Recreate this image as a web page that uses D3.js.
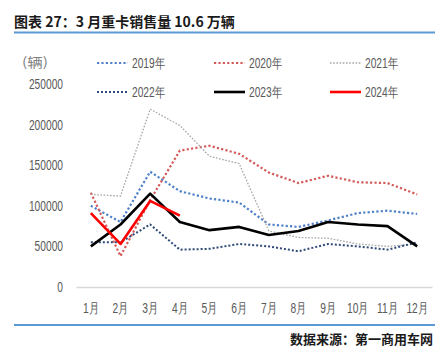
<!DOCTYPE html>
<html><head><meta charset="utf-8">
<script src="https://cdn.jsdelivr.net/npm/d3@7/dist/d3.min.js"></script>
<style>
html,body{margin:0;padding:0;background:#fff;}
svg{display:block;}
</style></head>
<body>
<svg id="c" width="441" height="350"></svg>
<script>
const months = ["1月","2月","3月","4月","5月","6月","7月","8月","9月","10月","11月","12月"];
const yTicks = [0, 50000, 100000, 150000, 200000, 250000];
const s2019 = [100000, 80000, 142000, 118000, 109000, 104000, 77000, 74000, 82000, 91000, 94000, 90000];
const s2020 = [116000, 38000, 107000, 168000, 174000, 164000, 141000, 128000, 137000, 129000, 128000, 114000];
const s2021 = [114000, 112000, 219000, 199000, 161000, 152000, 69000, 61000, 60000, 53000, 50000, 53000];
const s2022 = [55000, 55000, 77000, 46000, 47000, 53000, 50000, 44000, 53000, 50000, 46000, 55000];
const s2023 = [50000, 77000, 115000, 80000, 70000, 74000, 64000, 69000, 80000, 77000, 75000, 50000];
const s2024 = [91000, 53000, 106000, 88000];
const seriesNames = ["2019年","2020年","2021年","2022年","2023年","2024年"];

const styles = [
  {color:"#4f81c9", w:2.2, dash:"2.2,2.2"},
  {color:"#d45a5a", w:2.2, dash:"2.2,2.2"},
  {color:"#a6a6a6", w:1.3, dash:"1.6,1.6"},
  {color:"#2e4a78", w:2.0, dash:"2,2"},
  {color:"#000000", w:2.6, dash:null},
  {color:"#ff0000", w:2.6, dash:null}
];
const allSeries = [s2019, s2020, s2021, s2022, s2023, s2024];

const svg = d3.select("#c");
const font = "'Liberation Sans',Arial,sans-serif";
const cjk = "'Noto Sans CJK SC',sans-serif";
const SQ = 0.73;
function squeeze(sel){
  sel.each(function(){
    const w = this.getComputedTextLength();
    d3.select(this).attr("textLength", w*SQ).attr("lengthAdjust","spacingAndGlyphs");
  });
}

// Title
svg.append("text").attr("x",14).attr("y",27)
  .attr("font-family",cjk).attr("font-weight","bold").attr("font-size",14).attr("fill","#1a1a1a")
  .text("图表 27：3 月重卡销售量 10.6 万辆");
svg.append("rect").attr("x",14).attr("y",31.5).attr("width",421).attr("height",2).attr("fill","#5b9bd5");
svg.append("rect").attr("x",14).attr("y",324).attr("width",421).attr("height",2).attr("fill","#5b9bd5");
svg.append("text").attr("x",433).attr("y",344).attr("text-anchor","end")
  .attr("font-family",cjk).attr("font-weight","bold").attr("font-size",13).attr("fill","#1a1a1a")
  .text("数据来源：第一商用车网");

const x = d3.scaleBand().domain(months).range([76, 432]);
const y = d3.scaleLinear().domain([0, 250000]).range([287, 84]);

// Unit
const unit = svg.append("text").attr("x",22).attr("y",67).attr("font-family",cjk).attr("font-size",13)
  .attr("fill","#7f7f7f").text("(辆)");
unit.attr("textLength",26).attr("lengthAdjust","spacingAndGlyphs");

// Y axis
const ya = svg.append("g").attr("transform","translate(76,0)")
  .call(d3.axisLeft(y).tickValues(yTicks).tickSize(0).tickPadding(13).tickFormat(d3.format("d")));
ya.select(".domain").remove();
ya.selectAll("text").attr("font-family",font).attr("font-size",14).attr("fill","#595959").call(squeeze);

// X axis
const xa = svg.append("g").attr("transform","translate(0,287)")
  .call(d3.axisBottom(x).tickSize(0).tickPadding(16));
xa.select(".domain").attr("stroke","#d9d9d9").attr("stroke-width",1.3);
xa.selectAll("text").attr("font-family",font).attr("font-size",14).attr("fill","#595959").call(squeeze);

// Lines
const line = d3.line().x((d,i)=>x(months[i]) + x.bandwidth()/2).y(d=>y(d));
allSeries.forEach((s,k)=>{
  const st = styles[k];
  const p = svg.append("path").datum(s).attr("d",line).attr("fill","none")
    .attr("stroke",st.color).attr("stroke-width",st.w).attr("stroke-linejoin","round");
  if(st.dash) p.attr("stroke-dasharray",st.dash);
});

// Legend
const legPos = [[97,63],[214,63],[330,63],[97,92],[214,92],[330,92]];
seriesNames.forEach((n,k)=>{
  const st = styles[k];
  const [lx,ly] = legPos[k];
  const l = svg.append("line").attr("x1",lx).attr("x2",lx+31).attr("y1",ly).attr("y2",ly)
    .attr("stroke",st.color).attr("stroke-width",st.w);
  if(st.dash) l.attr("stroke-dasharray",st.dash);
  svg.append("text").attr("x",lx+35).attr("y",ly+5).attr("font-family",font)
    .attr("font-size",14).attr("fill","#595959").text(n).call(squeeze);
});
</script>
</body></html>
